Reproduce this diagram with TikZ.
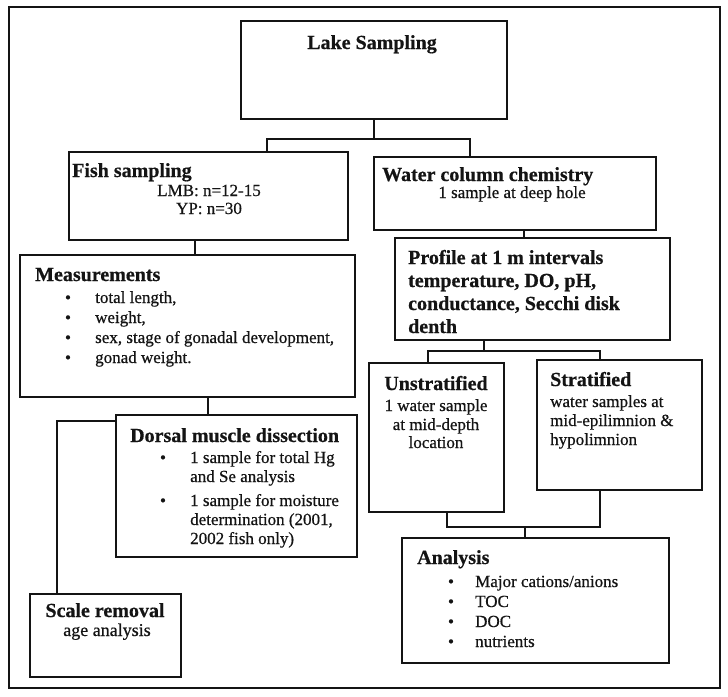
\documentclass[tikz,border=0pt]{standalone}
\usepackage{fontspec}
\setmainfont{Liberation Serif}[FakeBold=0.6]
\definecolor{ink}{HTML}{141414}
\tikzset{
  box/.style={draw=ink, line width=1.8pt, inner sep=0pt},
  link/.style={draw=ink, line width=1.8pt},
  head/.style={text=ink, inner sep=0pt, font=\fontsize{20}{24}\selectfont\bfseries},
  body/.style={text=ink, inner sep=0pt, font=\fontsize{17}{20}\selectfont},
}

\begin{document}
\begin{tikzpicture}[x=1pt, y=-1pt]
  \useasboundingbox (0,0) rectangle (728,696);
  \fill [white] (0,0) rectangle (728,696);
  \draw [ink, line width=2.8pt] (9,7) rectangle (720,688);

  \node[box, minimum width=266pt, minimum height=98pt] (lake) at (374,70) {};
  \node[box, minimum width=279pt, minimum height=88pt] (fish) at (208.5,196) {};
  \node[box, minimum width=282pt, minimum height=73pt] (water) at (515,193.5) {};
  \node[box, minimum width=335pt, minimum height=142pt] (meas) at (187.5,326) {};
  \node[box, minimum width=241pt, minimum height=142pt] (dorsal) at (236.5,486) {};
  \node[box, minimum width=151pt, minimum height=83pt] (scale) at (105.5,635.5) {};
  \node[box, minimum width=275pt, minimum height=102pt] (profile) at (532.5,289) {};
  \node[box, minimum width=135pt, minimum height=149pt] (unstrat) at (436.5,437.5) {};
  \node[box, minimum width=165pt, minimum height=130pt] (strat) at (619.5,425) {};
  \node[box, minimum width=267pt, minimum height=125pt] (analysis) at (535.5,600.5) {};

  \draw [link] (lake.south) -- ++(0,19) coordinate (split1);
  \draw [link] ([xshift=58.5pt]fish.north) |- (split1) -| ([xshift=-45pt]water.north);
  \draw [link] ([xshift=-13.5pt]fish.south) -- ([xshift=7.5pt]meas.north);
  \draw [link] ([xshift=20.5pt]meas.south) -- ([xshift=-28.5pt]dorsal.north);
  \draw [link] ([yshift=-7pt]dorsal.north west) -| ([xshift=-48.5pt]scale.north);
  \draw [link] ([xshift=9pt]water.south) -- ([xshift=-8.5pt]profile.north);
  \draw [link] ([xshift=-48.5pt]profile.south) -- ++(0,10) coordinate (split2);
  \draw [link] ([xshift=-8.5pt]unstrat.north) |- (split2) -| ([xshift=-19.5pt]strat.north);
  \draw [link] ([xshift=-10.5pt]analysis.north) -- ++(0,-10) coordinate (split3);
  \draw [link] ([xshift=10.5pt]unstrat.south) |- (split3) -| ([xshift=-19.5pt]strat.south);

  \node[head, anchor=base] (laketitle) at (372,49) {Lake Sampling};

  \node[head, anchor=base west] (fishtitle) at (72,177) {Fish sampling};
  \node[body, anchor=base] (fishlmb) at (209,196) {LMB: n=12-15};
  \node[body, anchor=base] (fishyp) at (209,214) {YP: n=30};

  \node[head, anchor=base west] (watertitle) at (382,181) {Water column chemistry};
  \node[body, anchor=base] (waterhole) at (512,198) {1 sample at deep hole};

  \node[head, anchor=base west] (meastitle) at (35,281) {Measurements};
  \foreach \y/\t [count=\i] in {303/{total length,}, 323/{weight,}, 343/{sex, stage of gonadal development,}, 363/{gonad weight.}} {
    \node[body, anchor=base] (measdot\i) at (68,\y) {\textbullet};
    \node[body, anchor=base west] (measitem\i) at (95,\y) {\t};
  }

  \node[head, anchor=base west] (dorsaltitle) at (130,442) {Dorsal muscle dissection};
  \node[body, anchor=base] (dorsaldot1) at (163,463) {\textbullet};
  \node[body, anchor=base] (dorsaldot2) at (163,506) {\textbullet};
  \foreach \y/\t [count=\i] in {463/{1 sample for total Hg}, 482/{and Se analysis}, 506/{1 sample for moisture}, 525/{determination (2001,}, 544/{2002 fish only)}} {
    \node[body, anchor=base west] (dorsalline\i) at (190,\y) {\t};
  }

  \node[head, anchor=base] (scaletitle) at (105,617) {Scale removal};
  \node[body, anchor=base, font=\fontsize{18}{21}\selectfont] (scaleage) at (107,636) {age analysis};

  \foreach \y/\t [count=\i] in {264/{Profile at 1 m intervals}, 287/{temperature, DO, pH,}, 310/{conductance, Secchi disk}, 333/{denth}} {
    \node[head, anchor=base west] (profileline\i) at (408,\y) {\t};
  }

  \node[head, anchor=base] (unstrattitle) at (436,390) {Unstratified};
  \foreach \y/\t [count=\i] in {411/{1 water sample}, 430/{at mid-depth}, 448/{location}} {
    \node[body, anchor=base] (unstratline\i) at (436,\y) {\t};
  }

  \node[head, anchor=base west] (strattitle) at (550,386) {Stratified};
  \foreach \y/\t [count=\i] in {407/{water samples at}, 426/{mid-epilimnion \&}, 445/{hypolimnion}} {
    \node[body, anchor=base west] (stratline\i) at (550,\y) {\t};
  }

  \node[head, anchor=base west] (analysistitle) at (417,564) {Analysis};
  \foreach \y/\t [count=\i] in {587/{Major cations/anions}, 607/{TOC}, 627/{DOC}, 647/{nutrients}} {
    \node[body, anchor=base] (analysisdot\i) at (451,\y) {\textbullet};
    \node[body, anchor=base west] (analysisitem\i) at (475,\y) {\t};
  }
\end{tikzpicture}
\end{document}
